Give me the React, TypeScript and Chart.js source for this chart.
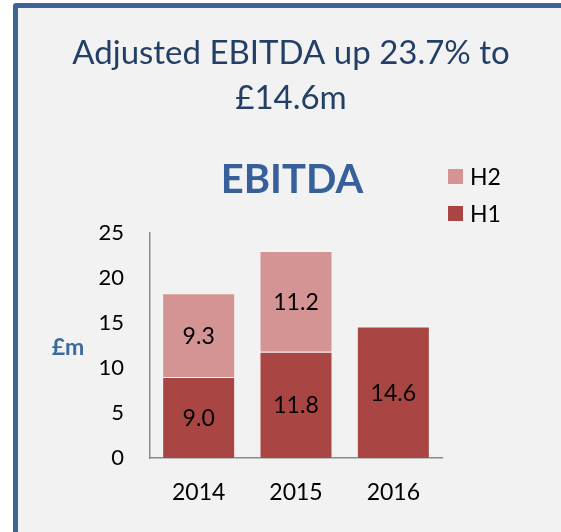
import React, { useEffect, useRef } from 'react';
import { Chart, registerables } from 'chart.js';

Chart.register(...registerables);

const categories = ['2014', '2015', '2016'];
const h1Values: (number | null)[] = [9.0, 11.8, 14.6];
const h2Values: (number | null)[] = [9.3, 11.2, null];
const yMin = 0;
const yMax = 25;
const yStep = 5;
const titleLines = ['Adjusted EBITDA up 23.7% to', '£14.6m'];
const subtitleText = 'EBITDA';
const yUnit = '£m';
const seriesNames = ['H1', 'H2'];
const seriesColors = ['#a94644', '#d49493'];

const FONT = 'Lato, "Open Sans", sans-serif';

const headingPlugin = {
  id: 'headings',
  afterDraw(chart: any) {
    const { ctx } = chart;
    ctx.save();
    ctx.textAlign = 'center';
    ctx.textBaseline = 'alphabetic';
    ctx.fillStyle = '#243f66';
    ctx.font = `33px ${FONT}`;
    ctx.fillText(titleLines[0], 291, 64);
    ctx.fillText(titleLines[1], 291, 109);
    ctx.fillStyle = '#37609a';
    ctx.font = `bold 40px ${FONT}`;
    ctx.fillText(subtitleText, 292, 192.5);
    ctx.restore();
  },
};

const dataLabelPlugin = {
  id: 'dataLabels',
  afterDatasetsDraw(chart: any) {
    const ctx = chart.ctx;
    ctx.save();
    ctx.font = `23px ${FONT}`;
    ctx.fillStyle = '#000000';
    ctx.textAlign = 'center';
    ctx.textBaseline = 'middle';
    chart.data.datasets.forEach((ds: any, i: number) => {
      const meta = chart.getDatasetMeta(i);
      meta.data.forEach((el: any, j: number) => {
        const v = ds.data[j];
        if (v == null) return;
        const p = el.getProps(['x', 'y', 'base'], true);
        ctx.fillText(Number(v).toFixed(1), p.x, (p.y + p.base) / 2 + 1);
      });
    });
    ctx.restore();
  },
};

const sideLegendPlugin = {
  id: 'sideLegend',
  afterDraw(chart: any) {
    const { ctx, chartArea } = chart;
    const x = chartArea.right + 6;
    const items = chart.data.datasets
      .map((ds: any) => ({ label: ds.label, color: ds.backgroundColor }))
      .reverse();
    ctx.save();
    items.forEach((it: any, k: number) => {
      const top = 169 + k * 37;
      ctx.fillStyle = it.color;
      ctx.fillRect(x, top, 15, 15);
      ctx.fillStyle = '#000000';
      ctx.font = `23px ${FONT}`;
      ctx.textAlign = 'left';
      ctx.textBaseline = 'alphabetic';
      ctx.fillText(it.label, x + 22, top + 16);
    });
    ctx.restore();
  },
};

const unitLabelPlugin = {
  id: 'unitLabel',
  afterDraw(chart: any) {
    const { ctx, chartArea } = chart;
    ctx.save();
    ctx.font = `bold 23px ${FONT}`;
    ctx.fillStyle = '#3c6a9c';
    ctx.textAlign = 'center';
    ctx.textBaseline = 'middle';
    ctx.fillText(yUnit, chartArea.left - 82, (chartArea.top + chartArea.bottom) / 2 + 2);
    ctx.restore();
  },
};

export default function App() {
  const canvasRef = useRef<HTMLCanvasElement | null>(null);

  useEffect(() => {
    if (!canvasRef.current) return;
    const chart = new Chart(canvasRef.current, {
      type: 'bar',
      data: {
        labels: categories,
        datasets: [
          {
            label: seriesNames[0],
            data: h1Values,
            backgroundColor: seriesColors[0],
            borderColor: 'rgba(255,255,255,0.25)',
            borderWidth: 1,
            categoryPercentage: 1,
            barPercentage: 0.75,
          },
          {
            label: seriesNames[1],
            data: h2Values,
            backgroundColor: seriesColors[1],
            borderColor: 'rgba(255,255,255,0.25)',
            borderWidth: 1,
            categoryPercentage: 1,
            barPercentage: 0.75,
          },
        ],
      },
      options: {
        animation: false,
        responsive: false,
        devicePixelRatio: 1,
        layout: { padding: { left: 60, right: 119, top: 233, bottom: 25 } },
        plugins: {
          legend: { display: false },
          tooltip: { enabled: false },
          title: { display: false },
        },
        scales: {
          x: {
            stacked: true,
            grid: { display: false, drawTicks: false },
            border: { display: true, color: '#8a8a8a', width: 1.5 },
            ticks: { color: '#000000', font: { family: FONT, size: 23 }, padding: 21 },
            afterFit: (s: any) => {
              s.height = 49;
            },
          },
          y: {
            stacked: true,
            min: yMin,
            max: yMax,
            grid: { display: false, drawTicks: false },
            border: { display: true, color: '#8a8a8a', width: 1.5 },
            ticks: {
              stepSize: yStep,
              color: '#000000',
              font: { family: FONT, size: 22 },
              padding: 26,
            },
            afterFit: (s: any) => {
              s.width = 90;
            },
          },
        },
      },
      plugins: [headingPlugin, dataLabelPlugin, sideLegendPlugin, unitLabelPlugin],
    });
    return () => chart.destroy();
  }, []);

  return (
    <div
      style={{
        position: 'absolute',
        left: 0,
        top: 0,
        width: 561,
        height: 532,
        overflow: 'hidden',
        background: '#ffffff',
      }}
    >
      <div
        style={{
          position: 'absolute',
          left: 13,
          top: 3,
          width: 600,
          height: 600,
          boxSizing: 'border-box',
          border: '5px solid #3d6494',
          borderRadius: 3,
          background: '#f2f2f2',
        }}
      />
      <canvas
        ref={canvasRef}
        width={561}
        height={532}
        style={{ position: 'absolute', left: 0, top: 0, width: 561, height: 532 }}
      />
    </div>
  );
}
